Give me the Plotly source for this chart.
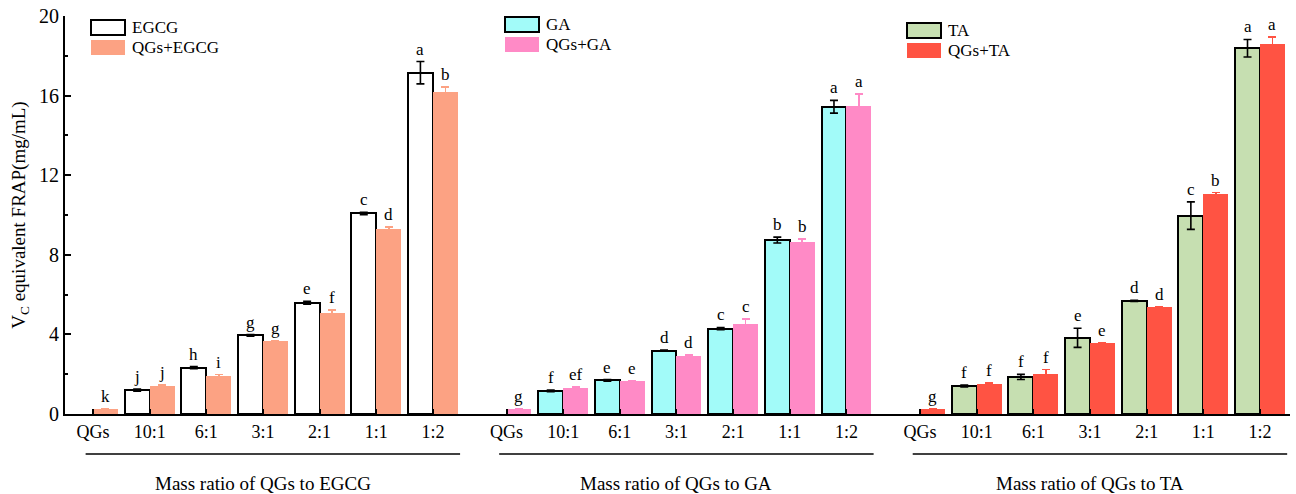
import plotly.graph_objects as go

# ---- data -------------------------------------------------------------
categories = ["QGs", "10:1", "6:1", "3:1", "2:1", "1:1", "1:2"]

egcg = [None, 1.20, 2.33, 3.95, 5.59, 10.08, 17.15]
egcg_err = [None, 0.05, 0.05, 0.04, 0.07, 0.06, 0.56]
egcg_sig = ["", "j", "h", "g", "e", "c", "a"]
qgs_egcg = [0.25, 1.42, 1.93, 3.65, 5.06, 9.28, 16.20]
qgs_egcg_err = [0.02, 0.04, 0.05, 0.03, 0.17, 0.13, 0.22]
qgs_egcg_sig = ["k", "j", "i", "g", "f", "d", "b"]

ga = [None, 1.16, 1.69, 3.18, 4.29, 8.74, 15.44]
ga_err = [None, 0.04, 0.04, 0.03, 0.06, 0.15, 0.32]
ga_sig = ["", "f", "e", "d", "c", "b", "a"]
qgs_ga = [0.25, 1.32, 1.64, 2.93, 4.54, 8.64, 15.48]
qgs_ga_err = [0.02, 0.04, 0.04, 0.03, 0.22, 0.15, 0.60]
qgs_ga_sig = ["g", "ef", "e", "d", "c", "b", "a"]

ta = [None, 1.41, 1.86, 3.83, 5.68, 9.97, 18.38]
ta_err = [None, 0.05, 0.13, 0.48, 0.03, 0.69, 0.44]
ta_sig = ["", "f", "f", "e", "d", "c", "a"]
qgs_ta = [0.25, 1.52, 2.03, 3.55, 5.36, 11.06, 18.58]
qgs_ta_err = [0.02, 0.03, 0.20, 0.03, 0.03, 0.07, 0.37]
qgs_ta_sig = ["g", "f", "f", "e", "d", "b", "a"]

group_titles = ["Mass ratio of QGs to EGCG", "Mass ratio of QGs to GA", "Mass ratio of QGs to TA"]
group_starts = [0.0, 7.3, 14.6]

groups = [
    dict(name="EGCG", vals=egcg, err=egcg_err, sig=egcg_sig, fill="#FFFFFF",
         mix="QGs+EGCG", mvals=qgs_egcg, merr=qgs_egcg_err, msig=qgs_egcg_sig, mcolor="#FCA283"),
    dict(name="GA", vals=ga, err=ga_err, sig=ga_sig, fill="#A2FBF9",
         mix="QGs+GA", mvals=qgs_ga, merr=qgs_ga_err, msig=qgs_ga_sig, mcolor="#FF8AC6"),
    dict(name="TA", vals=ta, err=ta_err, sig=ta_sig, fill="#C6DFB1",
         mix="QGs+TA", mvals=qgs_ta, merr=qgs_ta_err, msig=qgs_ta_sig, mcolor="#FF5343"),
]

# ---- layout geometry (pixels) -------------------------------------------
W, H = 1296, 494
ML, MR, MT, MB = 65, 6, 16, 80
PW, PH = W - ML - MR, H - MT - MB
BW = 0.44  # single bar width in axis units

FONT = "Liberation Serif, Times New Roman, serif"


def px_x(px):
    return (px - ML) / PW


def px_y(py):
    return (H - MB - py) / PH


fig = go.Figure()
annotations = []
shapes = []
tickvals, ticktext = [], []

for g, start in zip(groups, group_starts):
    xs = [start + i for i in range(len(categories))]
    tickvals += xs
    ticktext += categories

    fig.add_trace(go.Bar(
        x=xs, y=g["vals"], name=g["name"], width=BW, offset=-BW,
        marker=dict(color=g["fill"], line=dict(color="#000000", width=2)),
        error_y=dict(type="data", array=g["err"], color="#000000", thickness=1.6, width=4),
        showlegend=False,
    ))
    fig.add_trace(go.Bar(
        x=xs, y=g["mvals"], name=g["mix"], width=BW, offset=0,
        marker=dict(color=g["mcolor"], line=dict(width=0)),
        error_y=dict(type="data", array=g["merr"], color=g["mcolor"], thickness=1.6, width=4),
        showlegend=False,
    ))

    # significance letters above each bar
    for x, v, e, s in zip(xs, g["vals"], g["err"], g["sig"]):
        if v is not None and s:
            annotations.append(dict(x=x - BW / 2, y=v + e, text=s, showarrow=False,
                                    yanchor="bottom", yshift=1,
                                    font=dict(family=FONT, size=17, color="#000")))
    for x, v, e, s in zip(xs, g["mvals"], g["merr"], g["msig"]):
        if v is not None and s:
            annotations.append(dict(x=x + BW / 2, y=v + e, text=s, showarrow=False,
                                    yanchor="bottom", yshift=1,
                                    font=dict(family=FONT, size=17, color="#000")))

# group underlines and titles below the axis
for start, title in zip(group_starts, group_titles):
    shapes.append(dict(type="line", xref="x", yref="paper",
                       x0=start - 0.13, x1=start + 6.48,
                       y0=px_y(454), y1=px_y(454),
                       line=dict(color="#000", width=1.5)))
    annotations.append(dict(x=start + 3.0, xref="x", y=px_y(483), yref="paper",
                            text=title, showarrow=False, yanchor="middle",
                            font=dict(family=FONT, size=19, color="#000")))

# per-group legend boxes
legend_spots = [(91, 20), (505, 17), (907, 23)]
for g, (lx, ly) in zip(groups, legend_spots):
    sw, sh, gap = 34, 15, 5
    shapes.append(dict(type="rect", xref="paper", yref="paper",
                       x0=px_x(lx), x1=px_x(lx + sw), y0=px_y(ly + sh), y1=px_y(ly),
                       fillcolor=g["fill"], line=dict(color="#000", width=2)))
    shapes.append(dict(type="rect", xref="paper", yref="paper",
                       x0=px_x(lx), x1=px_x(lx + sw),
                       y0=px_y(ly + 2 * sh + gap), y1=px_y(ly + sh + gap),
                       fillcolor=g["mcolor"], line=dict(width=0)))
    annotations.append(dict(xref="paper", yref="paper", x=px_x(lx + sw + 5),
                            y=px_y(ly + sh / 2), text=g["name"], showarrow=False,
                            xanchor="left", yanchor="middle",
                            font=dict(family=FONT, size=17, color="#000")))
    annotations.append(dict(xref="paper", yref="paper", x=px_x(lx + sw + 5),
                            y=px_y(ly + 1.5 * sh + gap), text=g["mix"], showarrow=False,
                            xanchor="left", yanchor="middle",
                            font=dict(family=FONT, size=17, color="#000")))

fig.update_layout(
    width=W, height=H,
    margin=dict(l=ML, r=MR, t=MT, b=MB),
    paper_bgcolor="white", plot_bgcolor="white",
    font=dict(family=FONT, color="#000"),
    bargap=0,
    shapes=shapes,
    annotations=annotations,
    xaxis=dict(
        range=[-0.494, 21.13],
        tickmode="array", tickvals=tickvals, ticktext=ticktext,
        ticks="inside", ticklen=5, tickwidth=1.5, tickcolor="#000",
        showline=True, linecolor="#000", linewidth=2,
        showgrid=False, zeroline=False,
        tickfont=dict(family=FONT, size=18, color="#000"),
    ),
    yaxis=dict(
        range=[0, 20],
        tickmode="array", tickvals=[0, 4, 8, 12, 16, 20],
        ticks="inside", ticklen=6, tickwidth=1.5, tickcolor="#000",
        minor=dict(tickvals=[2, 6, 10, 14, 18], ticks="inside", ticklen=3,
                   tickwidth=1.5, tickcolor="#000"),
        showline=True, linecolor="#000", linewidth=2,
        showgrid=False, zeroline=False,
        tickfont=dict(family=FONT, size=20, color="#000"),
        title=dict(text="V<sub>C</sub> equivalent FRAP(mg/mL)", standoff=8,
                   font=dict(family=FONT, size=19, color="#000")),
    ),
)

fig.write_html("out.html")
